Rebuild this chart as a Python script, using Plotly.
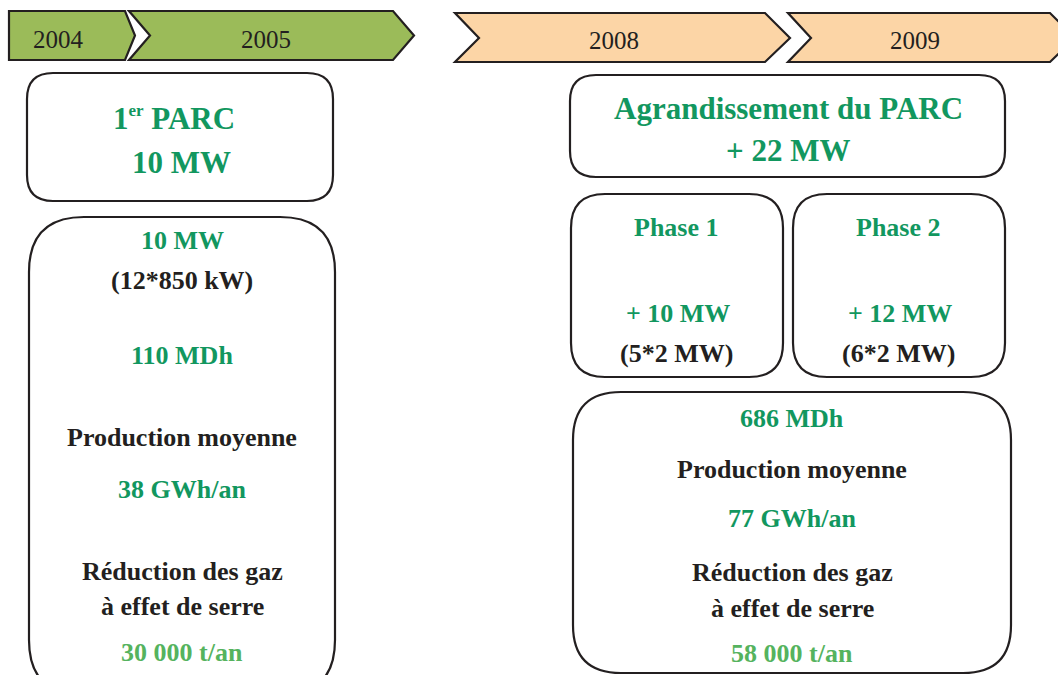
import plotly.graph_objects as go

# ---- content ----
years_left = ["2004", "2005"]
years_right = ["2008", "2009"]
parc1_title = ["1<sup><span style='font-size:17px'>er</span></sup> PARC", "10 MW"]
parc1_details = ["10 MW", "(12*850 kW)", "110 MDh", "Production moyenne",
                 "38 GWh/an", "Réduction des gaz", "à effet de serre", "30 000 t/an"]
parc1_colors = ["g", "k", "g", "k", "g", "k", "k", "lg"]
ext_title = ["Agrandissement du PARC", "+ 22 MW"]
phase_names = ["Phase 1", "Phase 2"]
phase_add = ["+ 10 MW", "+ 12 MW"]
phase_units = ["(5*2 MW)", "(6*2 MW)"]
ext_details = ["686 MDh", "Production moyenne", "77 GWh/an",
               "Réduction des gaz", "à effet de serre", "58 000 t/an"]
ext_colors = ["g", "k", "g", "k", "k", "lg"]

# ---- styles ----
FONT = "Liberation Serif, Times New Roman, DejaVu Serif, serif"
COL = {"g": "#12975f", "lg": "#55b35e", "k": "#231f20"}
GREEN_FILL = "#9bbb59"
PEACH_FILL = "#fcd5a6"
LINE = "#231f20"

W, H = 1058, 675
fig = go.Figure()
fig.add_trace(go.Scatter(x=[0, W], y=[0, H], mode="markers",
                         marker=dict(opacity=0), hoverinfo="skip", showlegend=False))

shapes = []
annots = []


def poly(pts):
    return "M" + " L".join(f"{x},{y}" for x, y in pts) + " Z"


def rrect(x0, y0, x1, y1, r):
    return (f"M{x0+r},{y0} L{x1-r},{y0} Q{x1},{y0} {x1},{y0+r} "
            f"L{x1},{y1-r} Q{x1},{y1} {x1-r},{y1} L{x0+r},{y1} "
            f"Q{x0},{y1} {x0},{y1-r} L{x0},{y0+r} Q{x0},{y0} {x0+r},{y0} Z")


def add_shape(path, fill="white", lw=2.2):
    shapes.append(dict(type="path", path=path, xref="x", yref="y",
                       fillcolor=fill, line=dict(color=LINE, width=lw), layer="below"))


def add_text(x, y, text, color="k", size=26, bold=True):
    t = f"<b>{text}</b>" if bold else text
    annots.append(dict(x=x, y=y, xref="x", yref="y", text=t, showarrow=False,
                       xanchor="center", yanchor="middle",
                       font=dict(family=FONT, size=size, color=COL[color])))


# ---- timeline arrows ----
add_shape(poly([(9, 11), (125, 11), (135, 35.5), (125, 60), (9, 60)]), GREEN_FILL)
add_shape(poly([(129, 11), (393, 11), (414, 35.5), (393, 60), (129, 60), (150, 35.5)]), GREEN_FILL)
add_shape(poly([(455, 13), (765, 13), (790, 38), (765, 62), (455, 62), (479, 38)]), PEACH_FILL)
add_shape(poly([(788, 13), (1050, 13), (1075, 38), (1050, 62), (788, 62), (811, 38)]), PEACH_FILL)

add_text(58, 39, years_left[0], size=25, bold=False)
add_text(266, 39, years_left[1], size=25, bold=False)
add_text(614, 40, years_right[0], size=25, bold=False)
add_text(915, 40, years_right[1], size=25, bold=False)

# ---- left boxes ----
add_shape(rrect(27, 73, 333, 201, 26))
add_text(174, 118, parc1_title[0], "g", size=31)
add_text(181, 162, parc1_title[1], "g", size=31)

add_shape(rrect(29, 217, 335, 695, 55))
left_y = [240, 280, 355, 437, 489, 571, 606, 652]
for txt, c, y in zip(parc1_details, parc1_colors, left_y):
    add_text(182, y, txt, c)

# ---- right boxes ----
add_shape(rrect(570, 75, 1005, 177, 26))
add_text(788, 108, ext_title[0], "g", size=31)
add_text(788, 150, ext_title[1], "g", size=31)

phase_boxes = [(571, 783), (793, 1005)]
for i, (x0, x1) in enumerate(phase_boxes):
    add_shape(rrect(x0, 194, x1, 377, 34))
    cx = (x0 + x1) / 2
    add_text(cx - 1, 227, phase_names[i], "g")
    add_text(cx + 1, 313, phase_add[i], "g")
    add_text(cx - 1, 353, phase_units[i], "k")

add_shape(rrect(573, 392, 1011, 673, 48))
right_y = [418, 469, 518, 572, 608, 653]
for txt, c, y in zip(ext_details, ext_colors, right_y):
    add_text(792, y, txt, c)

fig.update_layout(
    width=W, height=H, margin=dict(l=0, r=0, t=0, b=0),
    paper_bgcolor="white", plot_bgcolor="white",
    xaxis=dict(range=[0, W], visible=False, fixedrange=True),
    yaxis=dict(range=[H, 0], visible=False, fixedrange=True),
    shapes=shapes, annotations=annots, showlegend=False,
)
fig.write_html("out.html", config={"displayModeBar": False},
               post_script="document.body.style.margin='0';document.body.style.overflow='hidden';")
